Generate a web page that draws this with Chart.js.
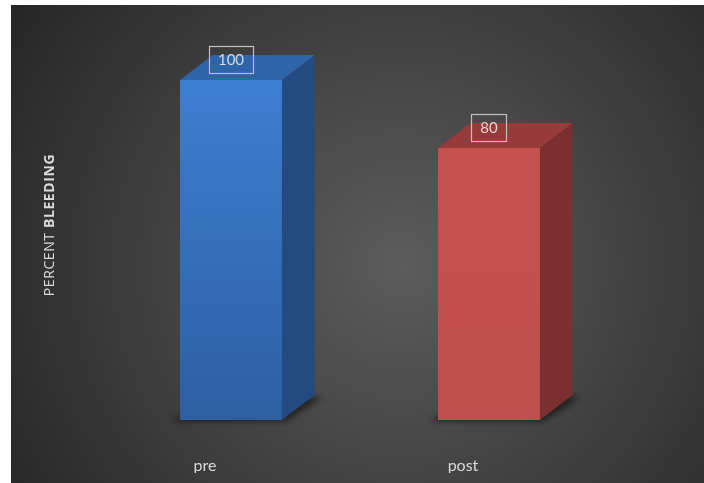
<!DOCTYPE html>
<html lang="en">
<head>
  <meta charset="UTF-8">
  <title>Percent bleeding</title>
  <script src="https://cdn.jsdelivr.net/npm/chart.js"></script>
  <style>
    html, body { margin: 0; padding: 0; background: #fff; }
    .wrap { position: absolute; left: 11px; top: 5px; width: 693px; height: 478px; }
  </style>
</head>
<body>
  <div class="wrap"><canvas id="chart"></canvas></div>

  <script>
    // data
    const categories = ['pre', 'post'];
    const values = [100, 80];
    const frontTop = ['#3d7fd2', '#c5524f'];
    const frontBottom = ['#2d5fa2', '#c0504d'];
    const topColors = ['#2e64a8', '#983a39'];
    const sideColors = ['#234b82', '#7b302f'];
    const yTitle = ['PERCENT ', 'BLEEDING'];

    const textColor = '#d9d9d9';

    // 3d look: side + top faces, base shadow, boxed value labels, axis title
    const bar3d = {
      id: 'bar3d',
      beforeDraw(chart) {
        const { ctx, width, height } = chart;
        const g = ctx.createRadialGradient(390, 260, 0, 390, 260, 480);
        g.addColorStop(0, '#5c5c5c');
        g.addColorStop(0.55, '#3e3e3e');
        g.addColorStop(1, '#242424');
        ctx.save();
        ctx.fillStyle = g;
        ctx.fillRect(0, 0, width, height);
        ctx.restore();
      },
      beforeDatasetsDraw(chart) {
        const { ctx } = chart;
        chart.getDatasetMeta(0).data.forEach(bar => {
          const w = bar.width, dx = w * 0.32, dy = w * 0.245;
          const l = bar.x - w / 2, r = bar.x + w / 2, b = bar.base;
          ctx.save();
          ctx.filter = 'blur(3px)';
          ctx.fillStyle = 'rgba(0,0,0,0.55)';
          ctx.beginPath();
          ctx.moveTo(l - 8, b + 1);
          ctx.lineTo(r + 4, b + 1);
          ctx.lineTo(r + dx + 8, b - dy + 2);
          ctx.lineTo(l + dx, b - dy + 2);
          ctx.closePath();
          ctx.fill();
          ctx.restore();
        });
      },
      afterDatasetsDraw(chart) {
        const { ctx } = chart;
        chart.getDatasetMeta(0).data.forEach((bar, i) => {
          const w = bar.width, dx = w * 0.32, dy = w * 0.245;
          const l = bar.x - w / 2, r = bar.x + w / 2, t = bar.y, b = bar.base;
          ctx.save();
          // side face
          ctx.fillStyle = sideColors[i];
          ctx.beginPath();
          ctx.moveTo(r, t);
          ctx.lineTo(r + dx, t - dy);
          ctx.lineTo(r + dx, b - dy);
          ctx.lineTo(r, b);
          ctx.closePath();
          ctx.fill();
          // top face
          ctx.fillStyle = topColors[i];
          ctx.beginPath();
          ctx.moveTo(l, t);
          ctx.lineTo(r, t);
          ctx.lineTo(r + dx, t - dy);
          ctx.lineTo(l + dx, t - dy);
          ctx.closePath();
          ctx.fill();

          // value label in a box
          const txt = String(values[i]);
          ctx.font = '15px Lato, "Open Sans", sans-serif';
          const tw = ctx.measureText(txt).width;
          const bw = tw + 18, bh = 27;
          const cx = bar.x, cy = t - 21;
          ctx.strokeStyle = '#bfbfbf';
          ctx.lineWidth = 1.2;
          ctx.strokeRect(Math.round(cx - bw / 2) + 0.5, Math.round(cy - bh / 2) + 0.5, Math.round(bw), bh);
          ctx.fillStyle = textColor;
          ctx.textAlign = 'center';
          ctx.textBaseline = 'middle';
          ctx.fillText(txt, cx, cy + 1);
          ctx.restore();
        });
      },
      afterDraw(chart) {
        const { ctx, chartArea } = chart;
        ctx.save();
        ctx.translate(39, (chartArea.top + chartArea.bottom) / 2 - 25);
        ctx.rotate(-Math.PI / 2);
        ctx.letterSpacing = '0.6px';
        const f1 = '14px "Open Sans", sans-serif';
        const f2 = 'bold 14px "Open Sans", sans-serif';
        ctx.font = f1;
        const w1 = ctx.measureText(yTitle[0]).width;
        ctx.font = f2;
        const w2 = ctx.measureText(yTitle[1]).width;
        let x = -(w1 + w2) / 2;
        ctx.fillStyle = textColor;
        ctx.textBaseline = 'middle';
        ctx.font = f1;
        ctx.fillText(yTitle[0], x, 0);
        ctx.font = f2;
        ctx.fillText(yTitle[1], x + w1, 0);
        ctx.restore();
      }
    };

    new Chart(document.getElementById('chart'), {
      type: 'bar',
      data: {
        labels: categories,
        datasets: [{
          data: values,
          backgroundColor(c) {
            const area = c.chart.chartArea;
            if (!area) return frontTop[c.dataIndex];
            const g = c.chart.ctx.createLinearGradient(0, area.top, 0, area.bottom);
            g.addColorStop(0, frontTop[c.dataIndex]);
            g.addColorStop(1, frontBottom[c.dataIndex]);
            return g;
          },
          borderWidth: 0,
          barPercentage: 0.395,
          categoryPercentage: 1
        }]
      },
      options: {
        responsive: true,
        maintainAspectRatio: false,
        animation: false,
        layout: { padding: { left: 91, right: 86, top: 75, bottom: 10 } },
        plugins: { legend: { display: false }, tooltip: { enabled: false } },
        scales: {
          x: {
            grid: { display: false },
            border: { display: false },
            ticks: {
              color: textColor,
              font: { family: 'Lato, "Open Sans", sans-serif', size: 16 },
              padding: 28,
              labelOffset: -26
            },
            afterFit(scale) { scale.height = 53; }
          },
          y: { display: false, min: 0, max: 100 }
        }
      },
      plugins: [bar3d]
    });
  </script>
</body>
</html>
